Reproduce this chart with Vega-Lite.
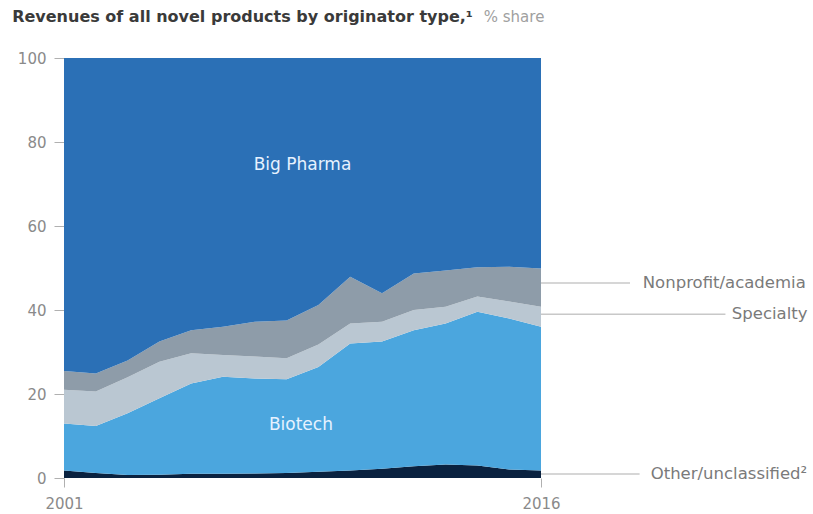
{
  "$schema": "https://vega.github.io/schema/vega-lite/v6.json",
  "width": 477,
  "height": 420,
  "autosize": "none",
  "padding": {"left": 64, "top": 58, "right": 272, "bottom": 36},
  "background": "white",
  "config": {"view": {"stroke": null}, "font": "DejaVu Sans"},
  "datasets": {
    "shares": [
      {"year": 2001, "type": "Other/unclassified", "share": 1.8},
      {"year": 2001, "type": "Biotech", "share": 11.2},
      {"year": 2001, "type": "Specialty", "share": 8.0},
      {"year": 2001, "type": "Nonprofit/academia", "share": 4.5},
      {"year": 2001, "type": "Big Pharma", "share": 74.5},
      {"year": 2002, "type": "Other/unclassified", "share": 1.2},
      {"year": 2002, "type": "Biotech", "share": 11.2},
      {"year": 2002, "type": "Specialty", "share": 8.2},
      {"year": 2002, "type": "Nonprofit/academia", "share": 4.3},
      {"year": 2002, "type": "Big Pharma", "share": 75.1},
      {"year": 2003, "type": "Other/unclassified", "share": 0.7},
      {"year": 2003, "type": "Biotech", "share": 14.7},
      {"year": 2003, "type": "Specialty", "share": 8.6},
      {"year": 2003, "type": "Nonprofit/academia", "share": 4.0},
      {"year": 2003, "type": "Big Pharma", "share": 72.0},
      {"year": 2004, "type": "Other/unclassified", "share": 0.8},
      {"year": 2004, "type": "Biotech", "share": 18.2},
      {"year": 2004, "type": "Specialty", "share": 8.7},
      {"year": 2004, "type": "Nonprofit/academia", "share": 4.8},
      {"year": 2004, "type": "Big Pharma", "share": 67.5},
      {"year": 2005, "type": "Other/unclassified", "share": 1.0},
      {"year": 2005, "type": "Biotech", "share": 21.5},
      {"year": 2005, "type": "Specialty", "share": 7.2},
      {"year": 2005, "type": "Nonprofit/academia", "share": 5.5},
      {"year": 2005, "type": "Big Pharma", "share": 64.8},
      {"year": 2006, "type": "Other/unclassified", "share": 1.0},
      {"year": 2006, "type": "Biotech", "share": 23.1},
      {"year": 2006, "type": "Specialty", "share": 5.2},
      {"year": 2006, "type": "Nonprofit/academia", "share": 6.7},
      {"year": 2006, "type": "Big Pharma", "share": 64.0},
      {"year": 2007, "type": "Other/unclassified", "share": 1.1},
      {"year": 2007, "type": "Biotech", "share": 22.6},
      {"year": 2007, "type": "Specialty", "share": 5.2},
      {"year": 2007, "type": "Nonprofit/academia", "share": 8.3},
      {"year": 2007, "type": "Big Pharma", "share": 62.8},
      {"year": 2008, "type": "Other/unclassified", "share": 1.2},
      {"year": 2008, "type": "Biotech", "share": 22.3},
      {"year": 2008, "type": "Specialty", "share": 5.0},
      {"year": 2008, "type": "Nonprofit/academia", "share": 9.0},
      {"year": 2008, "type": "Big Pharma", "share": 62.5},
      {"year": 2009, "type": "Other/unclassified", "share": 1.5},
      {"year": 2009, "type": "Biotech", "share": 24.9},
      {"year": 2009, "type": "Specialty", "share": 5.4},
      {"year": 2009, "type": "Nonprofit/academia", "share": 9.4},
      {"year": 2009, "type": "Big Pharma", "share": 58.8},
      {"year": 2010, "type": "Other/unclassified", "share": 1.8},
      {"year": 2010, "type": "Biotech", "share": 30.2},
      {"year": 2010, "type": "Specialty", "share": 4.8},
      {"year": 2010, "type": "Nonprofit/academia", "share": 11.1},
      {"year": 2010, "type": "Big Pharma", "share": 52.1},
      {"year": 2011, "type": "Other/unclassified", "share": 2.2},
      {"year": 2011, "type": "Biotech", "share": 30.3},
      {"year": 2011, "type": "Specialty", "share": 4.7},
      {"year": 2011, "type": "Nonprofit/academia", "share": 6.8},
      {"year": 2011, "type": "Big Pharma", "share": 56.0},
      {"year": 2012, "type": "Other/unclassified", "share": 2.8},
      {"year": 2012, "type": "Biotech", "share": 32.4},
      {"year": 2012, "type": "Specialty", "share": 4.8},
      {"year": 2012, "type": "Nonprofit/academia", "share": 8.7},
      {"year": 2012, "type": "Big Pharma", "share": 51.3},
      {"year": 2013, "type": "Other/unclassified", "share": 3.2},
      {"year": 2013, "type": "Biotech", "share": 33.6},
      {"year": 2013, "type": "Specialty", "share": 4.0},
      {"year": 2013, "type": "Nonprofit/academia", "share": 8.6},
      {"year": 2013, "type": "Big Pharma", "share": 50.6},
      {"year": 2014, "type": "Other/unclassified", "share": 3.0},
      {"year": 2014, "type": "Biotech", "share": 36.6},
      {"year": 2014, "type": "Specialty", "share": 3.6},
      {"year": 2014, "type": "Nonprofit/academia", "share": 7.0},
      {"year": 2014, "type": "Big Pharma", "share": 49.8},
      {"year": 2015, "type": "Other/unclassified", "share": 2.0},
      {"year": 2015, "type": "Biotech", "share": 36.0},
      {"year": 2015, "type": "Specialty", "share": 4.0},
      {"year": 2015, "type": "Nonprofit/academia", "share": 8.3},
      {"year": 2015, "type": "Big Pharma", "share": 49.7},
      {"year": 2016, "type": "Other/unclassified", "share": 1.8},
      {"year": 2016, "type": "Biotech", "share": 34.2},
      {"year": 2016, "type": "Specialty", "share": 4.8},
      {"year": 2016, "type": "Nonprofit/academia", "share": 9.1},
      {"year": 2016, "type": "Big Pharma", "share": 50.1}
    ],
    "typeOrder": [
      {"type": "Other/unclassified", "rank": 1},
      {"type": "Biotech", "rank": 2},
      {"type": "Specialty", "rank": 3},
      {"type": "Nonprofit/academia", "rank": 4},
      {"type": "Big Pharma", "rank": 5}
    ],
    "inner": [
      {"year": 2008.5, "share": 74.5, "label": "Big Pharma"},
      {"year": 2008.45, "share": 12.6, "label": "Biotech"}
    ],
    "leaders": [
      {"year": 2016, "year2": 2018.8, "share": 46.4},
      {"year": 2016, "year2": 2021.8, "share": 39.0},
      {"year": 2016, "year2": 2019.1, "share": 0.95}
    ],
    "outer": [
      {"year": 2019.2, "share": 46.4, "label": "Nonprofit/academia"},
      {"year": 2022.0, "share": 39.0, "label": "Specialty"},
      {"year": 2019.45, "share": 0.95, "label": "Other/unclassified²"}
    ],
    "heading": [
      {"year": 1999.37, "share": 109.8, "label": "Revenues of all novel products by originator type,¹"}
    ],
    "unit": [
      {"year": 2014.2, "share": 109.8, "label": "% share"}
    ]
  },
  "layer": [
    {
      "data": {"name": "shares"},
      "transform": [
        {"lookup": "type", "from": {"data": {"name": "typeOrder"}, "key": "type", "fields": ["rank"]}}
      ],
      "mark": {"type": "area", "interpolate": "linear", "strokeWidth": 0},
      "encoding": {
        "x": {
          "field": "year",
          "type": "quantitative",
          "scale": {"domain": [2001, 2016], "nice": false, "zero": false},
          "axis": {
            "title": null,
            "values": [2001, 2016],
            "format": "d",
            "domain": false,
            "grid": false,
            "labelFlush": false,
            "tickSize": 9,
            "tickColor": "#b0b0b0",
            "labelPadding": 9,
            "labelFontSize": 15,
            "labelColor": "#8a8a8a",
            "labelFont": "DejaVu Sans"
          }
        },
        "y": {
          "field": "share",
          "type": "quantitative",
          "stack": "zero",
          "scale": {"domain": [0, 100], "nice": false},
          "axis": {
            "title": null,
            "values": [0, 20, 40, 60, 80, 100],
            "domain": false,
            "grid": false,
            "tickSize": 10,
            "tickColor": "#b0b0b0",
            "labelPadding": 8,
            "labelFontSize": 15,
            "labelColor": "#8a8a8a",
            "labelFont": "DejaVu Sans"
          }
        },
        "color": {
          "field": "type",
          "type": "nominal",
          "scale": {
            "domain": ["Other/unclassified", "Biotech", "Specialty", "Nonprofit/academia", "Big Pharma"],
            "range": ["#0a2240", "#4ba6de", "#bac7d2", "#8e9ca9", "#2b70b6"]
          },
          "legend": null
        },
        "order": {"field": "rank", "type": "quantitative", "sort": "ascending"}
      }
    },
    {
      "data": {"name": "leaders"},
      "mark": {"type": "rule", "color": "#c8c8c8", "strokeWidth": 1.5},
      "encoding": {
        "x": {"field": "year", "type": "quantitative"},
        "x2": {"field": "year2"},
        "y": {"field": "share", "type": "quantitative"}
      }
    },
    {
      "data": {"name": "inner"},
      "mark": {"type": "text", "align": "center", "baseline": "middle", "fontSize": 17, "color": "#e6f2ff", "font": "DejaVu Sans"},
      "encoding": {
        "x": {"field": "year", "type": "quantitative"},
        "y": {"field": "share", "type": "quantitative"},
        "text": {"field": "label"}
      }
    },
    {
      "data": {"name": "outer"},
      "mark": {"type": "text", "align": "left", "baseline": "middle", "fontSize": 16.5, "color": "#7a7a7a", "font": "DejaVu Sans"},
      "encoding": {
        "x": {"field": "year", "type": "quantitative"},
        "y": {"field": "share", "type": "quantitative"},
        "text": {"field": "label"}
      }
    },
    {
      "data": {"name": "heading"},
      "mark": {"type": "text", "align": "left", "baseline": "middle", "fontSize": 16, "fontWeight": "bold", "color": "#3a3a3a", "font": "DejaVu Sans"},
      "encoding": {
        "x": {"field": "year", "type": "quantitative"},
        "y": {"field": "share", "type": "quantitative"},
        "text": {"field": "label"}
      }
    },
    {
      "data": {"name": "unit"},
      "mark": {"type": "text", "align": "left", "baseline": "middle", "fontSize": 15, "color": "#a0a0a0", "font": "DejaVu Sans"},
      "encoding": {
        "x": {"field": "year", "type": "quantitative"},
        "y": {"field": "share", "type": "quantitative"},
        "text": {"field": "label"}
      }
    }
  ]
}
